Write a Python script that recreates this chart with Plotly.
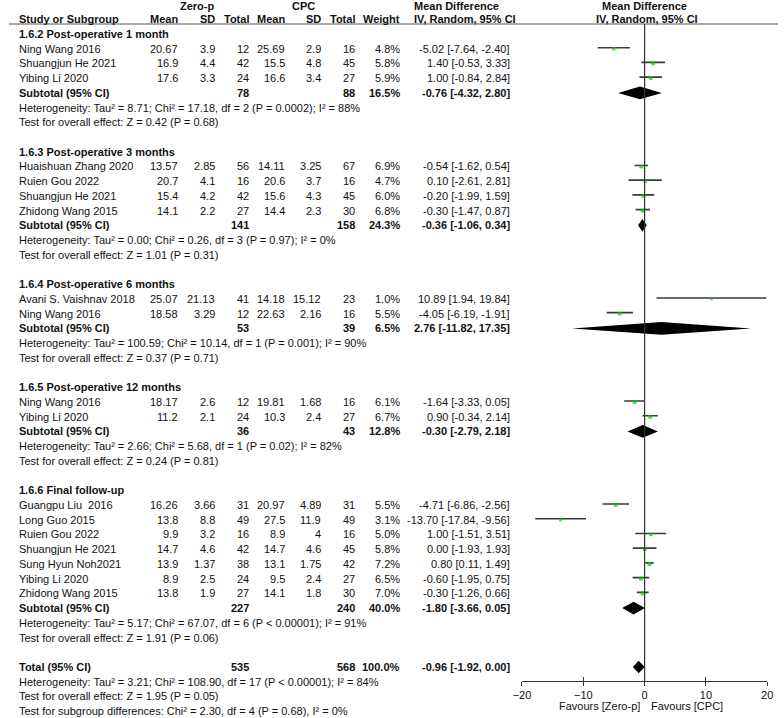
import plotly.graph_objects as go

# ---------------- data ----------------
group_titles = ["1.6.2 Post-operative 1 month", "1.6.3 Post-operative 3 months",
                "1.6.4 Post-operative 6 months", "1.6.5 Post-operative 12 months",
                "1.6.6 Final follow-up"]

study_group = [0, 0, 0, 1, 1, 1, 1, 2, 2, 3, 3, 4, 4, 4, 4, 4, 4, 4]
study_names = ["Ning Wang 2016", "Shuangjun He 2021", "Yibing Li 2020",
               "Huaishuan Zhang 2020", "Ruien Gou 2022", "Shuangjun He 2021", "Zhidong Wang 2015",
               "Avani S. Vaishnav 2018", "Ning Wang 2016",
               "Ning Wang 2016", "Yibing Li 2020",
               "Guangpu Liu  2016", "Long Guo 2015", "Ruien Gou 2022", "Shuangjun He 2021",
               "Sung Hyun Noh2021", "Yibing Li 2020", "Zhidong Wang 2015"]
zp_mean = ["20.67", "16.9", "17.6", "13.57", "20.7", "15.4", "14.1", "25.07", "18.58",
           "18.17", "11.2", "16.26", "13.8", "9.9", "14.7", "13.9", "8.9", "13.8"]
zp_sd = ["3.9", "4.4", "3.3", "2.85", "4.1", "4.2", "2.2", "21.13", "3.29",
         "2.6", "2.1", "3.66", "8.8", "3.2", "4.6", "1.37", "2.5", "1.9"]
zp_n = [12, 42, 24, 56, 16, 42, 27, 41, 12, 12, 24, 31, 49, 16, 42, 38, 24, 27]
cpc_mean = ["25.69", "15.5", "16.6", "14.11", "20.6", "15.6", "14.4", "14.18", "22.63",
            "19.81", "10.3", "20.97", "27.5", "8.9", "14.7", "13.1", "9.5", "14.1"]
cpc_sd = ["2.9", "4.8", "3.4", "3.25", "3.7", "4.3", "2.3", "15.12", "2.16",
          "1.68", "2.4", "4.89", "11.9", "4", "4.6", "1.75", "2.4", "1.8"]
cpc_n = [16, 45, 27, 67, 16, 45, 30, 23, 16, 16, 27, 31, 49, 16, 45, 42, 27, 30]
weight = [4.8, 5.8, 5.9, 6.9, 4.7, 6.0, 6.8, 1.0, 5.5, 6.1, 6.7, 5.5, 3.1, 5.0, 5.8, 7.2, 6.5, 7.0]
md = [-5.02, 1.40, 1.00, -0.54, 0.10, -0.20, -0.30, 10.89, -4.05, -1.64, 0.90,
      -4.71, -13.70, 1.00, 0.00, 0.80, -0.60, -0.30]
md_lo = [-7.64, -0.53, -0.84, -1.62, -2.61, -1.99, -1.47, 1.94, -6.19, -3.33, -0.34,
         -6.86, -17.84, -1.51, -1.93, 0.11, -1.95, -1.26]
md_hi = [-2.40, 3.33, 2.84, 0.54, 2.81, 1.59, 0.87, 19.84, -1.91, 0.05, 2.14,
         -2.56, -9.56, 3.51, 1.93, 1.49, 0.75, 0.66]

sub_zp_n = [78, 141, 53, 36, 227]
sub_cpc_n = [88, 158, 39, 43, 240]
sub_weight = [16.5, 24.3, 6.5, 12.8, 40.0]
sub_md = [-0.76, -0.36, 2.76, -0.30, -1.80]
sub_lo = [-4.32, -1.06, -11.82, -2.79, -3.66]
sub_hi = [2.80, 0.34, 17.35, 2.18, 0.05]
sub_het = ["Heterogeneity: Tau² = 8.71; Chi² = 17.18, df = 2 (P = 0.0002); I² = 88%",
           "Heterogeneity: Tau² = 0.00; Chi² = 0.26, df = 3 (P = 0.97); I² = 0%",
           "Heterogeneity: Tau² = 100.59; Chi² = 10.14, df = 1 (P = 0.001); I² = 90%",
           "Heterogeneity: Tau² = 2.66; Chi² = 5.68, df = 1 (P = 0.02); I² = 82%",
           "Heterogeneity: Tau² = 5.17; Chi² = 67.07, df = 6 (P < 0.00001); I² = 91%"]
sub_z = ["Test for overall effect: Z = 0.42 (P = 0.68)",
         "Test for overall effect: Z = 1.01 (P = 0.31)",
         "Test for overall effect: Z = 0.37 (P = 0.71)",
         "Test for overall effect: Z = 0.24 (P = 0.81)",
         "Test for overall effect: Z = 1.91 (P = 0.06)"]

total_zp_n = 535
total_cpc_n = 568
total_weight = 100.0
total_md, total_lo, total_hi = -0.96, -1.92, 0.00
total_het = "Heterogeneity: Tau² = 3.21; Chi² = 108.90, df = 17 (P < 0.00001); I² = 84%"
total_z = "Test for overall effect: Z = 1.95 (P = 0.05)"
subgroup_test = "Test for subgroup differences: Chi² = 2.30, df = 4 (P = 0.68), I² = 0%"

x_ticks = [-20, -10, 0, 10, 20]
favours_left = "Favours [Zero-p]"
favours_right = "Favours [CPC]"

# ---------------- layout constants ----------------
W, H = 784, 718
TOP, BOTTOM = 24, 681          # header underline / forest axis (px)
ROW0, ROWH = 34.0, 14.72       # first row centre and row pitch (px)
FONT = "Liberation Sans, Arial, sans-serif"
FS = 11
FS_SMALL = 11
TXT = "#111111"


def row_px(r):
    return ROW0 + r * ROWH


def row_of_px(p):
    return (p - ROW0) / ROWH


def px(xp):
    return xp / W


def py(p):
    return (BOTTOM - p) / (BOTTOM - TOP)


col_right = {"zm": 172, "zs": 210, "zn": 245, "cm": 281, "cs": 318, "cn": 353,
             "w": 399, "md": 511}
LEFT = 10

ann = []


def text_px(x, p, s, anchor="left", bold=False, size=FS):
    ann.append(dict(x=px(x), y=py(p), xref="paper", yref="paper",
                    text=("<b>%s</b>" % s) if bold else s,
                    showarrow=False, xanchor=anchor, yanchor="middle",
                    borderpad=0, borderwidth=0,
                    font=dict(family=FONT, size=size, color=TXT)))


def text(x, r, s, anchor="left", bold=False, size=FS):
    text_px(x, row_px(r), s, anchor, bold, size)


def fmt_ci(m, l, h):
    return "%.2f [%.2f, %.2f]" % (m, l, h)


# ---------------- build rows ----------------
rows_study = [None] * len(study_names)
rows_sub = []
r = 0
for g, title in enumerate(group_titles):
    text(LEFT, r, title, bold=True)
    r += 1
    for i, sg in enumerate(study_group):
        if sg == g:
            rows_study[i] = r
            r += 1
    rows_sub.append(r)
    r += 1
    text(LEFT, r, sub_het[g], size=FS_SMALL); r += 1
    text(LEFT, r, sub_z[g], size=FS_SMALL); r += 1
    r += 1
row_total = r
text(LEFT, r + 1, total_het, size=FS_SMALL)
text(LEFT, r + 2, total_z, size=FS_SMALL)
text(LEFT, r + 3, subgroup_test, size=FS_SMALL)

for i, name in enumerate(study_names):
    y = rows_study[i]
    text(LEFT, y, name)
    text(col_right["zm"], y, zp_mean[i], "right")
    text(col_right["zs"], y, zp_sd[i], "right")
    text(col_right["zn"], y, str(zp_n[i]), "right")
    text(col_right["cm"], y, cpc_mean[i], "right")
    text(col_right["cs"], y, cpc_sd[i], "right")
    text(col_right["cn"], y, str(cpc_n[i]), "right")
    text(col_right["w"], y, "%.1f%%" % weight[i], "right")
    text(col_right["md"], y, fmt_ci(md[i], md_lo[i], md_hi[i]), "right")

for g in range(len(group_titles)):
    y = rows_sub[g]
    text(LEFT, y, "Subtotal (95% CI)", bold=True)
    text(col_right["zn"], y, str(sub_zp_n[g]), "right", bold=True)
    text(col_right["cn"], y, str(sub_cpc_n[g]), "right", bold=True)
    text(col_right["w"], y, "%.1f%%" % sub_weight[g], "right", bold=True)
    text(col_right["md"], y, fmt_ci(sub_md[g], sub_lo[g], sub_hi[g]), "right", bold=True)

text(LEFT, row_total, "Total (95% CI)", bold=True)
text(col_right["zn"], row_total, str(total_zp_n), "right", bold=True)
text(col_right["cn"], row_total, str(total_cpc_n), "right", bold=True)
text(col_right["w"], row_total, "%.1f%%" % total_weight, "right", bold=True)
text(col_right["md"], row_total, fmt_ci(total_md, total_lo, total_hi), "right", bold=True)

# header texts
H1, H2 = 6, 19
text_px(192, H1, "Zero-p", "center", bold=True)
text_px(300, H1, "CPC", "center", bold=True)
text_px(LEFT, H2, "Study or Subgroup", bold=True)
for key, lab in [("zm", "Mean"), ("zs", "SD"), ("zn", "Total"), ("cm", "Mean"),
                 ("cs", "SD"), ("cn", "Total"), ("w", "Weight")]:
    text_px(col_right[key], H2, lab, "right", bold=True)
text_px(413, H1, "Mean Difference", bold=True)
text_px(413, H2, "IV, Random, 95% CI", bold=True)
text_px(648, H1, "Mean Difference", "center", bold=True)
text_px(650, H2, "IV, Random, 95% CI", "center", bold=True)

# favours labels
for lab, anc, sh in [(favours_left, "right", -5), (favours_right, "left", 6)]:
    ann.append(dict(x=0, y=py(706), xref="x", yref="paper", text=lab,
                    showarrow=False, xanchor=anc, yanchor="middle", xshift=sh,
                    borderpad=0, borderwidth=0,
                    font=dict(family=FONT, size=FS, color=TXT)))

# ---------------- traces ----------------
fig = go.Figure()

# CI lines
cx, cy = [], []
for i in range(len(md)):
    cx += [md_lo[i], md_hi[i], None]
    cy += [rows_study[i] - 0.07, rows_study[i] - 0.07, None]
fig.add_trace(go.Scatter(x=cx, y=cy, mode="lines", line=dict(color="#3a3a3a", width=1.6),
                         hoverinfo="skip", showlegend=False, cliponaxis=False))

# study squares
fig.add_trace(go.Scatter(x=md, y=rows_study, mode="markers",
                         marker=dict(symbol="square", color="#00cc00",
                                     size=[2.2 + w * 0.25 for w in weight], line=dict(width=0)),
                         showlegend=False, cliponaxis=False))

# diamonds
DH = 0.43
all_md = sub_md + [total_md]
all_lo = sub_lo + [total_lo]
all_hi = sub_hi + [total_hi]
all_rows = rows_sub + [row_total]
for m, l, h, y in zip(all_md, all_lo, all_hi, all_rows):
    fig.add_trace(go.Scatter(x=[l, m, h, m, l], y=[y, y - DH, y, y + DH, y], mode="lines",
                             fill="toself", fillcolor="black", line=dict(width=0, color="black"),
                             hoverinfo="skip", showlegend=False, cliponaxis=False))

# invisible trace on the overlay axis so its inner ticks are drawn
fig.add_trace(go.Scatter(x=[x_ticks[0], x_ticks[-1]], y=[None, None], xaxis="x2",
                         mode="markers", showlegend=False, hoverinfo="skip"))

shapes = [
    dict(type="line", xref="paper", yref="paper", x0=0, x1=1, y0=1, y1=1,
         line=dict(color="#555555", width=1.2)),
    dict(type="line", xref="x", yref="paper", x0=0, x1=0, y0=0, y1=1,
         line=dict(color="#333333", width=1.2)),
]

dom = [523 / W, 773 / W]
fig.update_layout(
    width=W, height=H,
    margin=dict(l=0, r=0, t=TOP, b=H - BOTTOM, pad=0),
    paper_bgcolor="white", plot_bgcolor="white",
    annotations=ann, shapes=shapes,
    showlegend=False,
    xaxis=dict(domain=dom, range=[-20, 20], tickvals=x_ticks,
               showline=True, linecolor="#333333", linewidth=1.2,
               ticks="outside", ticklen=4, tickcolor="#333333", tickwidth=1.2,
               showgrid=False, zeroline=False,
               tickfont=dict(family=FONT, size=FS, color=TXT), fixedrange=True),
    xaxis2=dict(domain=dom, range=[-20, 20], tickvals=x_ticks, overlaying="x", anchor="y",
                side="bottom", showline=False, ticks="inside", ticklen=4,
                tickcolor="#333333", tickwidth=1.2, showticklabels=False,
                showgrid=False, zeroline=False, fixedrange=True),
    yaxis=dict(range=[row_of_px(BOTTOM), row_of_px(TOP)], visible=False,
               showgrid=False, zeroline=False, fixedrange=True),
)

fig.write_html("out.html", config={"displayModeBar": False},
               post_script="document.body.style.margin='0';document.body.style.padding='0';")
